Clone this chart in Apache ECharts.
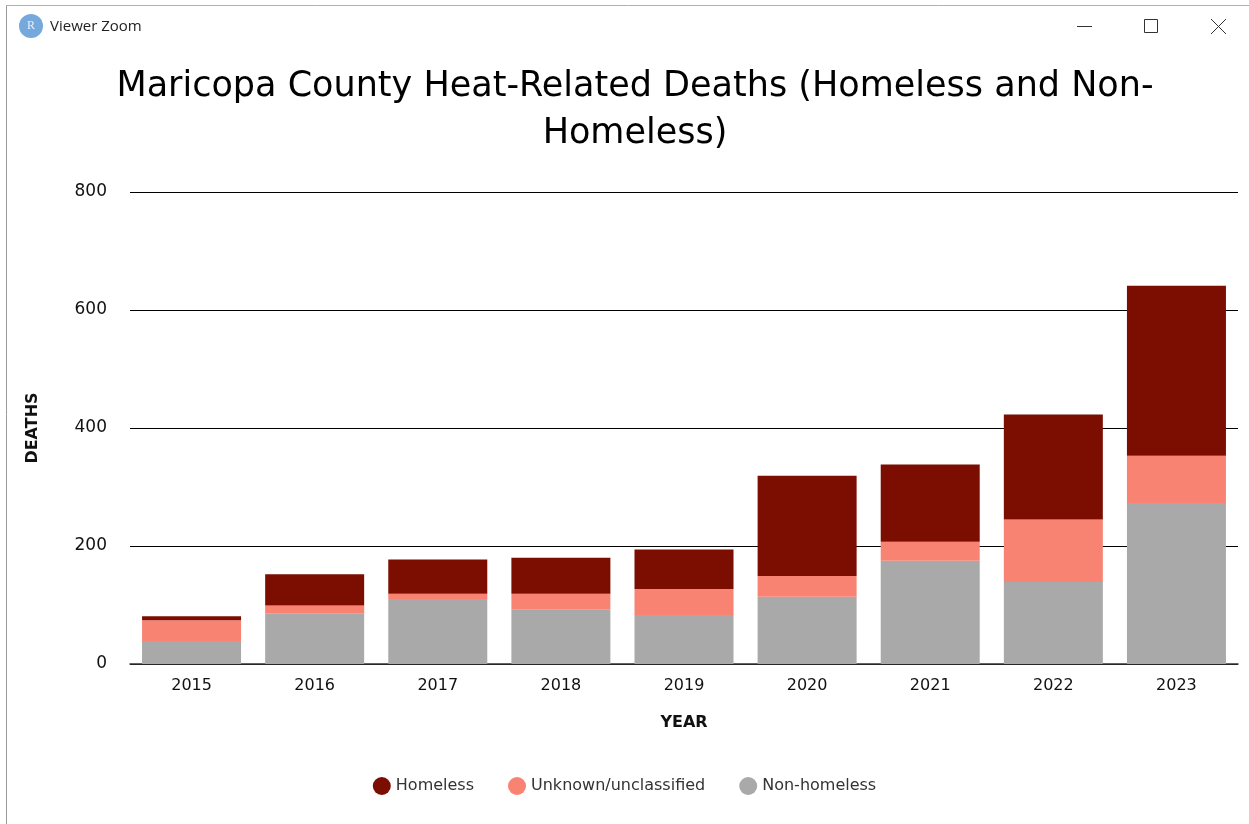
<!DOCTYPE html>
<html><head><meta charset="utf-8">
<style>html,body{margin:0;padding:0;background:#fff}#c{width:1249px;height:824px}</style>
<script src="https://cdn.jsdelivr.net/npm/echarts@6/dist/echarts.min.js"></script>
</head><body><div id="c"></div>
<script>
const years = ['2015','2016','2017','2018','2019','2020','2021','2022','2023'];
const nonHomeless = [39,86,110,92,83,114,175,139,273];
const unknown = [35,13,9,27,44,35,32,106,80];
const homeless = [7,53,58,61,67,170,131,178,288];
const yTicks = [0,200,400,600,800];
const FONT = '"DejaVu Sans"';
const chart = echarts.init(document.getElementById('c'), null, {renderer:'canvas'});
function bar(name, data, color){
  return {name, type:'bar', stack:'t', data, barWidth:99, itemStyle:{color}, emphasis:{disabled:true}};
}
chart.setOption({
  animation:false,
  backgroundColor:'#fff',
  textStyle:{fontFamily:FONT},
  title:{text:'Maricopa County Heat-Related Deaths (Homeless and Non-\nHomeless)',left:630,top:58,textAlign:'center',
    textStyle:{fontFamily:FONT,fontSize:35,fontWeight:'normal',color:'#000',lineHeight:47}},
  grid:{left:130,right:11,top:192,bottom:160},
  legend:{left:'center',top:772,itemWidth:18,itemHeight:18,itemGap:34,icon:'circle',
    data:['Homeless','Unknown/unclassified','Non-homeless'],
    textStyle:{fontFamily:FONT,fontSize:16,color:'#333',padding:[0,0,0,0]}},
  xAxis:{type:'category',data:years,name:'YEAR',nameLocation:'middle',nameGap:51,
    nameTextStyle:{fontFamily:FONT,fontSize:16,fontWeight:'bold',color:'#111'},
    axisLine:{lineStyle:{color:'#333',width:1.5}},
    axisTick:{alignWithLabel:true,length:13,lineStyle:{color:'#222'}},
    axisLabel:{fontFamily:FONT,fontSize:16,color:'#111',margin:14}},
  yAxis:{type:'value',min:0,max:800,interval:200,name:'DEATHS',nameLocation:'middle',nameGap:89,
    nameTextStyle:{fontFamily:FONT,fontSize:16,fontWeight:'bold',color:'#111'},
    axisLine:{show:false},axisTick:{show:false},
    axisLabel:{fontFamily:FONT,fontSize:17,color:'#111',margin:23,
      formatter:v=>yTicks.includes(v)?String(v):''},
    splitLine:{lineStyle:{color:'#000',width:1}}},
  color:['#7b0d01','#f88372','#a9a9a9'],
  series:[
    bar('Non-homeless',nonHomeless,'#a9a9a9'),
    bar('Unknown/unclassified',unknown,'#f88372'),
    bar('Homeless',homeless,'#7b0d01')
  ],
  graphic:[
    {type:'line',shape:{x1:6.5,y1:5,x2:6.5,y2:824},style:{stroke:'#9a9a9a',lineWidth:1}},
    {type:'line',shape:{x1:6,y1:5.5,x2:1249,y2:5.5},style:{stroke:'#b0b0b0',lineWidth:1}},
    {type:'circle',shape:{cx:31,cy:26,r:12},style:{fill:'#75a9dc'}},
    {type:'text',style:{x:31,y:26,text:'R',fill:'#e8f0fa',font:'12px "Liberation Serif"',align:'center',verticalAlign:'middle'}},
    {type:'text',style:{x:50,y:27,text:'Viewer Zoom',fill:'#222',font:'15px "Open Sans"',verticalAlign:'middle'}},
    {type:'line',shape:{x1:1077,y1:26.5,x2:1092,y2:26.5},style:{stroke:'#333',lineWidth:1}},
    {type:'rect',shape:{x:1144.5,y:19.5,width:13,height:13},style:{fill:'none',stroke:'#333',lineWidth:1}},
    {type:'line',shape:{x1:1211,y1:19,x2:1226,y2:34},style:{stroke:'#333',lineWidth:1}},
    {type:'line',shape:{x1:1226,y1:19,x2:1211,y2:34},style:{stroke:'#333',lineWidth:1}}
  ]
});
</script></body></html>
